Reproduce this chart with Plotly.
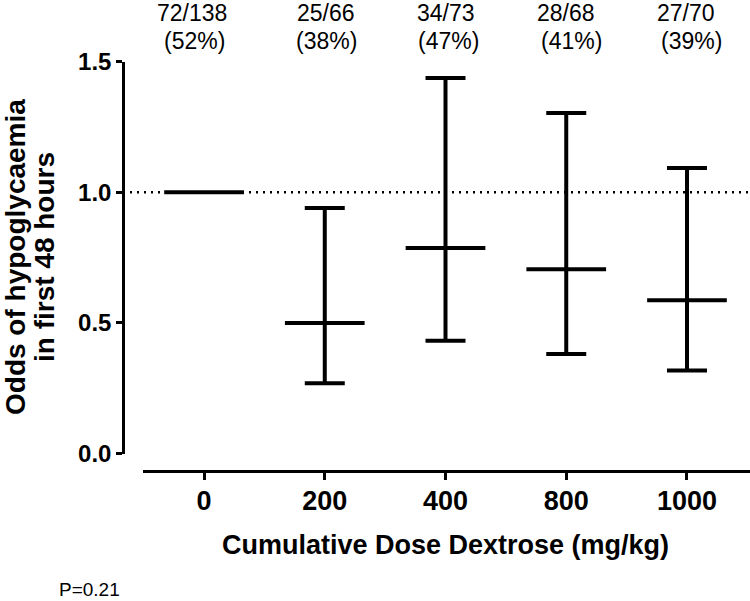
import plotly.graph_objects as go

# ---- data ----
doses = ["0", "200", "400", "800", "1000"]
odds = [1.0, 0.50, 0.787, 0.705, 0.587]
ci_lower = [None, 0.269, 0.432, 0.381, 0.318]
ci_upper = [None, 0.94, 1.438, 1.304, 1.093]
counts = ["72/138", "25/66", "34/73", "28/68", "27/70"]
percents = ["(52%)", "(38%)", "(47%)", "(41%)", "(39%)"]
p_value_text = "P=0.21"

# ---- layout helpers (pixels -> paper) ----
W, H = 750, 601
ML, MR, MT, MB = 123, 0, 61, 130
PW, PH = W - ML - MR, H - MT - MB


def xp(px):
    return (px - ML) / PW


def yp(py):
    return (H - MB - py) / PH


FONT = "Liberation Sans, Arial, sans-serif"
xpos = list(range(len(doses)))
half = 0.33

fig = go.Figure()

# reference line at 1.0
fig.add_shape(type="line", xref="paper", yref="y", x0=0, x1=1, y0=1, y1=1,
              line=dict(color="black", width=2.5, dash="2px,5px"), layer="below")

# horizontal estimate lines
lx, ly = [], []
for i, v in zip(xpos, odds):
    lx += [i - half, i + half, None]
    ly += [v, v, None]
fig.add_trace(go.Scatter(x=lx, y=ly, mode="lines",
                         line=dict(color="black", width=4), hoverinfo="skip",
                         showlegend=False))

# confidence intervals
ex, ey, eplus, eminus = [], [], [], []
for i, v, lo, hi in zip(xpos, odds, ci_lower, ci_upper):
    if lo is None:
        continue
    ex.append(i)
    ey.append(v)
    eplus.append(hi - v)
    eminus.append(v - lo)
fig.add_trace(go.Scatter(x=ex, y=ey, mode="markers",
                         marker=dict(size=1, color="rgba(0,0,0,0)"),
                         error_y=dict(type="data", symmetric=False, array=eplus,
                                      arrayminus=eminus, width=20, thickness=4,
                                      color="black"),
                         showlegend=False))

# top annotations
off1 = [-12, 1, 0, 0, -1]
off2 = [-10, 2, 3, 5, 5]
for i, (c, p) in enumerate(zip(counts, percents)):
    fig.add_annotation(x=i, y=yp(13), xref="x", yref="paper", text=c,
                       showarrow=False, xshift=off1[i], xanchor="center", yanchor="middle",
                       font=dict(family=FONT, size=23, color="black"))
    fig.add_annotation(x=i, y=yp(41), xref="x", yref="paper", text=p,
                       showarrow=False, xshift=off2[i], xanchor="center", yanchor="middle",
                       font=dict(family=FONT, size=23, color="black"))

# y-axis title (two lines)
for txt, cx in [("Odds of hypoglycaemia", 15), ("in first 48 hours", 44)]:
    fig.add_annotation(x=xp(cx), y=yp(257), xref="paper", yref="paper", text=txt,
                       textangle=-90, showarrow=False, xanchor="center", yanchor="middle",
                       font=dict(family=FONT, size=28, color="black", weight="bold"))

# x-axis title
fig.add_annotation(x=2, y=yp(545), xref="x", yref="paper",
                   text="Cumulative Dose Dextrose (mg/kg)", showarrow=False,
                   xanchor="center", yanchor="middle",
                   font=dict(family=FONT, size=27, color="black", weight="bold"))

# p value
fig.add_annotation(x=xp(57), y=yp(589), xref="paper", yref="paper",
                   text=p_value_text, showarrow=False, xanchor="left", yanchor="middle",
                   font=dict(family=FONT, size=19, color="black"))

fig.update_layout(
    width=W, height=H,
    margin=dict(l=ML, r=MR, t=MT, b=MB, autoexpand=False),
    plot_bgcolor="white", paper_bgcolor="white",
    xaxis=dict(domain=[xp(142.7), 1], range=[-0.508, 4.522],
               tickvals=xpos, ticktext=doses, anchor="free", position=0,
               showline=True, linecolor="black", linewidth=2.5,
               ticks="outside", ticklen=7, tickwidth=2.5, tickcolor="black",
               showgrid=False, zeroline=False, ticklabelstandoff=-2,
               tickfont=dict(family=FONT, size=27, color="black", weight="bold")),
    yaxis=dict(domain=[yp(453.5), min(1.0, yp(61.7))], range=[0, 1.5],
               tickvals=[0, 0.5, 1.0, 1.5], ticktext=["0.0", "0.5", "1.0", "1.5"],
               anchor="free", position=0,
               showline=True, linecolor="black", linewidth=2.5,
               ticks="outside", ticklen=6, tickwidth=2.5, tickcolor="black",
               showgrid=False, zeroline=False,
               tickfont=dict(family=FONT, size=24, color="black", weight="bold")),
)

fig.write_html("out.html", config={"displayModeBar": False},
               post_script="document.body.style.margin='0';document.body.style.overflow='hidden';")
